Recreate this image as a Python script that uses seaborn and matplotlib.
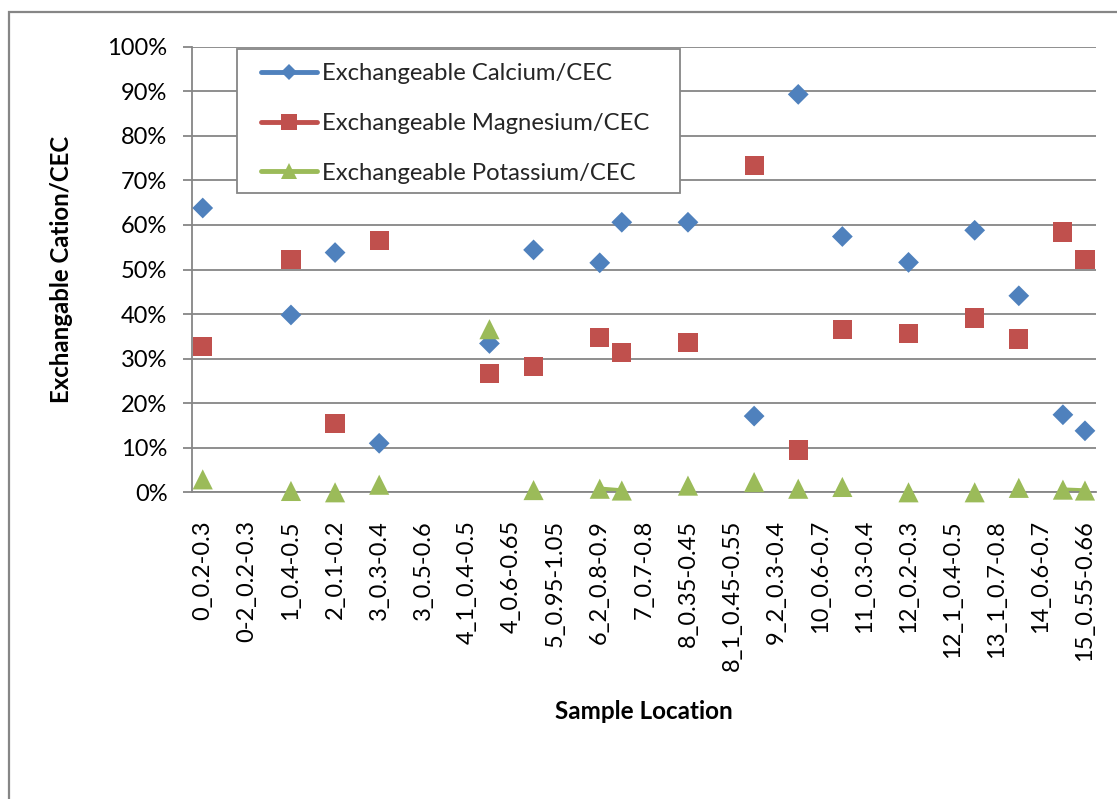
import numpy as np
import pandas as pd
import matplotlib
matplotlib.use("Agg")
import matplotlib.pyplot as plt
from matplotlib.patches import Rectangle
from matplotlib.lines import Line2D
from matplotlib.ticker import PercentFormatter
import seaborn as sns

# Category axis: 41 sample slots, every second slot carries a label
sample_locations = [
    "0_0.2-0.3", "0-2_0.2-0.3", "1_0.4-0.5", "2_0.1-0.2", "3_0.3-0.4",
    "3_0.5-0.6", "4_1_0.4-0.5", "4_0.6-0.65", "5_0.95-1.05", "6_2_0.8-0.9",
    "7_0.7-0.8", "8_0.35-0.45", "8_1_0.45-0.55", "9_2_0.3-0.4", "10_0.6-0.7",
    "11_0.3-0.4", "12_0.2-0.3", "12_1_0.4-0.5", "13_1_0.7-0.8", "14_0.6-0.7",
    "15_0.55-0.66",
]
n_slots = 41

# Slots that hold measurements and the cation fractions of CEC at each
sample_slots = [0, 4, 6, 8, 13, 15, 18, 19, 22, 25, 27, 29, 32, 35, 37, 39, 40]
calcium = [0.638, 0.398, 0.538, 0.110, 0.334, 0.544, 0.515, 0.606, 0.606,
           0.171, 0.893, 0.574, 0.516, 0.588, 0.441, 0.174, 0.138]
magnesium = [0.327, 0.522, 0.155, 0.565, 0.266, 0.282, 0.347, 0.313, 0.336,
             0.733, 0.095, 0.366, 0.356, 0.391, 0.344, 0.584, 0.522]
potassium = [0.029, 0.003, 0.000, 0.017, 0.366, 0.005, 0.008, 0.004, 0.015,
             0.023, 0.008, 0.012, 0.000, 0.000, 0.010, 0.006, 0.004]

series_names = ["Exchangeable Calcium/CEC", "Exchangeable Magnesium/CEC",
                "Exchangeable Potassium/CEC"]
series_colors = ["#4F81BD", "#C0504D", "#9BBB59"]
series_markers = ["D", "s", "^"]
marker_areas = [112, 190, 210]

sns.set_theme(style="white")
plt.rcParams["font.family"] = ["Lato", "DejaVu Sans"]

GRAY = "#868686"
W, H = 1117, 799

df = pd.DataFrame({
    "slot": sample_slots * 3,
    "value": calcium + magnesium + potassium,
    "series": np.repeat(series_names, len(sample_slots)),
})

fig = plt.figure(figsize=(W / 100, H / 100), dpi=100)
ax_l, ax_r, ax_t, ax_b = 191.7, 1096.0, 46.7, 492.3
ax = fig.add_axes([ax_l / W, 1 - ax_b / H, (ax_r - ax_l) / W, (ax_b - ax_t) / H])

# Potassium series is joined only between neighbouring slots
k_full = np.full(n_slots, np.nan)
k_full[sample_slots] = potassium
ax.plot(np.arange(n_slots), k_full, color=series_colors[2], lw=3.2,
        zorder=2.5, clip_on=False)

sns.scatterplot(
    data=df, x="slot", y="value", hue="series", style="series", size="series",
    palette=dict(zip(series_names, series_colors)),
    markers=dict(zip(series_names, series_markers)),
    sizes=dict(zip(series_names, marker_areas)),
    linewidth=0, legend=False, ax=ax, zorder=3, clip_on=False,
)

ax.set_xlim(-0.5, n_slots - 0.5)
ax.set_ylim(0, 1)
ax.set_xticks(np.arange(0, n_slots, 2), sample_locations, rotation=90)
ax.set_xticks(np.arange(-0.5, n_slots, 1), minor=True)
ax.set_yticks(np.arange(0, 1.01, 0.1))
ax.yaxis.set_major_formatter(PercentFormatter(1.0, decimals=0))

ax.tick_params(axis="x", which="major", length=0, pad=20, labelsize=17,
               labelcolor="black")
ax.tick_params(axis="x", which="minor", length=7, width=1.3, color=GRAY,
               direction="out")
ax.tick_params(axis="y", which="major", length=6.5, width=1.3, color=GRAY,
               direction="out", pad=11, labelsize=17, labelcolor="black", left=True)

ax.yaxis.grid(True, color=GRAY, lw=1.3)
ax.xaxis.grid(False)
ax.set_axisbelow(True)
for side in ("top", "right"):
    ax.spines[side].set_visible(False)
for side in ("left", "bottom"):
    ax.spines[side].set_color(GRAY)
    ax.spines[side].set_linewidth(1.3)

ax.set_xlabel("Sample Location", fontsize=17.5, fontweight="bold", color="black")
ax.xaxis.set_label_coords(0.5, (ax_b - 700) / (ax_b - ax_t))
ax.set_ylabel("Exchangable Cation/CEC", fontsize=17.3, fontweight="bold", color="black")
ax.yaxis.set_label_coords((62 - ax_l) / (ax_r - ax_l), 0.5)
ax.yaxis.label.set_verticalalignment("center")

# Legend box
lx0, ly0, lx1, ly1 = 236.7, 49.0, 680.0, 193.3
ax.add_patch(Rectangle((lx0 / W, 1 - ly1 / H), (lx1 - lx0) / W, (ly1 - ly0) / H,
                       transform=fig.transFigure, facecolor="white",
                       edgecolor=GRAY, lw=1.3, zorder=4))
handles = [
    Line2D([], [], color=c, lw=3.5, marker=m, markersize=ms, markeredgewidth=0)
    for c, m, ms in zip(series_colors, series_markers, [8.5, 11, 12])
]
leg = ax.legend(handles, series_names, loc="upper left",
                bbox_to_anchor=(261 / W, 1 - 63.5 / H),
                bbox_transform=fig.transFigure, frameon=False, fontsize=17.2,
                handlelength=2.33, handletextpad=0.24, labelspacing=1.2,
                borderpad=0, borderaxespad=0)
leg.set_zorder(5)

# Chart-area border (left and top edges)
fig.add_artist(Rectangle((9 / W, -0.5), 2.0, 1.5 - 12 / H,
                         transform=fig.transFigure, fill=False,
                         edgecolor=GRAY, lw=1.6))

fig.savefig("out.png", dpi=100)
